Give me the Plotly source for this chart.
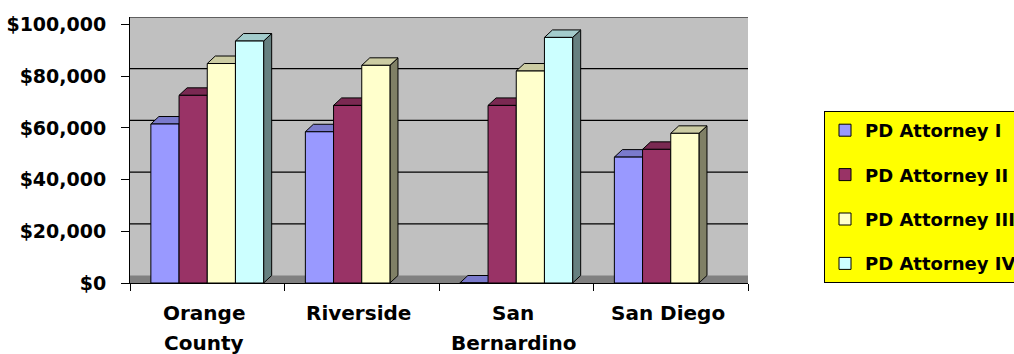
import plotly.graph_objects as go

categories = ["Orange County", "Riverside", "San Bernardino", "San Diego"]
label_line1 = ["Orange", "Riverside", "San", "San Diego"]
label_line2 = ["County", "", "Bernardino", ""]
series_names = ["PD Attorney I", "PD Attorney II", "PD Attorney III", "PD Attorney IV"]
pd1 = [61500, 58500, 0, 48700]
pd2 = [72600, 68700, 68700, 51700]
pd3 = [84900, 84200, 82000, 57900]
pd4 = [93600, None, 95000, None]
colors = ["#9999FF", "#993366", "#FFFFCC", "#CCFFFF"]
side_colors = ["#4D4D80", "#4D1A33", "#808066", "#668080"]
top_colors = ["#7A7ACC", "#7A2952", "#CCCCA3", "#A3CCCC"]
y_ticks = [0, 20000, 40000, 60000, 80000, 100000]
y_ticktext = ["$0", "$20,000", "$40,000", "$60,000", "$80,000", "$100,000"]

FONT = "DejaVu Sans"
BARGAP = 0.27
DEPTH_X = 0.052   # depth of the 3-D effect, in category units
DEPTH_Y = 2900    # depth of the 3-D effect, in value units

fig = go.Figure()
all_series = [pd1, pd2, pd3, pd4]
for name, vals, col in zip(series_names, all_series, colors):
    fig.add_trace(go.Bar(
        x=categories, y=vals, name=name, legendgroup=name,
        marker=dict(color=col, line=dict(color="black", width=1)),
    ))

shapes = []
# floor strip
shapes.append(dict(type="rect", xref="paper", yref="y", x0=0, x1=1, y0=0, y1=DEPTH_Y,
                   fillcolor="#808080", line=dict(width=0), layer="between"))
# back-wall gridlines (drawn at wall depth)
for v in y_ticks[1:]:
    shapes.append(dict(type="line", xref="paper", yref="y", x0=0, x1=1,
                       y0=v + DEPTH_Y, y1=v + DEPTH_Y,
                       line=dict(color="black", width=1.2), layer="between"))

# 3-D side and top faces of each bar
nser = len(all_series)
w = (1 - BARGAP) / nser
for si, vals in enumerate(all_series):
    for ci, v in enumerate(vals):
        if v is None:
            continue
        left = ci - (1 - BARGAP) / 2 + si * w
        right = left + w
        side = (f"M{right},0 L{right + DEPTH_X},{DEPTH_Y} L{right + DEPTH_X},{v + DEPTH_Y} "
                f"L{right},{v} Z")
        top = (f"M{left},{v} L{left + DEPTH_X},{v + DEPTH_Y} L{right + DEPTH_X},{v + DEPTH_Y} "
               f"L{right},{v} Z")
        shapes.append(dict(type="path", xref="x", yref="y", path=side,
                           fillcolor=side_colors[si], line=dict(color="black", width=1),
                           layer="between"))
        shapes.append(dict(type="path", xref="x", yref="y", path=top,
                           fillcolor=top_colors[si], line=dict(color="black", width=1),
                           layer="between"))

annotations = []
for ci, (l1, l2) in enumerate(zip(label_line1, label_line2)):
    annotations.append(dict(x=ci, xref="x", y=-0.112, yref="paper", text=l1,
                            showarrow=False, xshift=-3, yanchor="middle",
                            font=dict(family=FONT, size=20, color="black", weight="bold")))
    if l2:
        annotations.append(dict(x=ci, xref="x", y=-0.225, yref="paper", text=l2,
                                showarrow=False, xshift=-3, yanchor="middle",
                                font=dict(family=FONT, size=20, color="black", weight="bold")))

fig.update_layout(
    width=1014, height=354,
    margin=dict(l=130, r=266, t=17, b=71, autoexpand=False),
    paper_bgcolor="white",
    plot_bgcolor="#C0C0C0",
    barmode="group",
    bargap=BARGAP,
    bargroupgap=0,
    font=dict(family=FONT, size=19, color="black", weight="bold"),
    showlegend=True,
    legend=dict(
        x=(824 - 130) / 618, y=(283 - 111) / 266, xanchor="left", yanchor="top",
        bgcolor="#FFFF00", bordercolor="black", borderwidth=1,
        font=dict(family=FONT, size=18, color="black", weight="bold"),
        tracegroupgap=18,
        itemwidth=30,
    ),
    xaxis=dict(
        range=[-0.5, 3.5],
        showline=True, linecolor="black", linewidth=1,
        ticks="outside", tickson="boundaries", ticklen=7, tickcolor="black",
        showticklabels=False,
        showgrid=False,
    ),
    yaxis=dict(
        range=[0, 100000 + DEPTH_Y],
        tickvals=y_ticks, ticktext=y_ticktext,
        showline=True, linecolor="black", linewidth=1,
        ticks="outside", ticklen=8, tickcolor="black",
        ticklabelstandoff=11,
        showgrid=False,
        tickfont=dict(family=FONT, size=19, weight="bold"),
        zeroline=False,
    ),
    shapes=shapes,
    annotations=annotations,
)

fig.write_html("out.html")
